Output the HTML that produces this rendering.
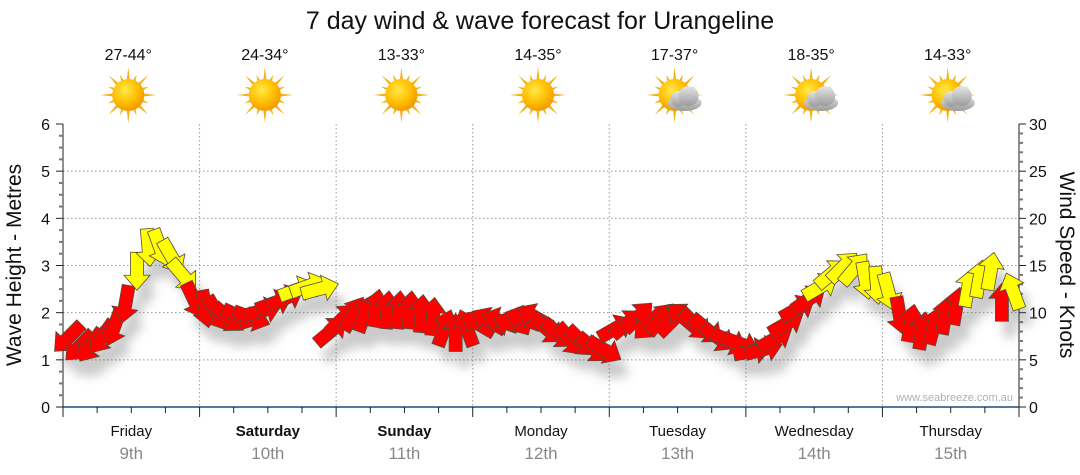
<!DOCTYPE html>
<html><head><meta charset="utf-8">
<style>
html,body{margin:0;padding:0;background:#fff;}
svg{display:block;font-family:"Liberation Sans","DejaVu Sans",sans-serif;}
</style></head>
<body>
<svg id="c" width="1080" height="475" viewBox="0 0 1080 475" xmlns="http://www.w3.org/2000/svg">
<defs>
<filter id="sh" x="-50%" y="-50%" width="200%" height="200%"><feGaussianBlur stdDeviation="5"/></filter>
<radialGradient id="sunG" cx="40%" cy="35%" r="65%"><stop offset="0" stop-color="#ffe94a"/><stop offset="0.6" stop-color="#ffbf00"/><stop offset="1" stop-color="#f39a00"/></radialGradient>
<linearGradient id="cloudG" x1="0" y1="0" x2="0" y2="1"><stop offset="0" stop-color="#e6e6e6"/><stop offset="1" stop-color="#9a9a9a"/></linearGradient>
</defs>
<text x="540" y="29" text-anchor="middle" font-size="25" fill="#111">7 day wind &amp; wave forecast for Urangeline</text>
<g id="grid"></g>
<g id="axes"></g>
<g id="icons"></g>
<g id="shadows" filter="url(#sh)" opacity="0.3"></g>
<g id="arrows"></g>
<text x="1013" y="401" text-anchor="end" font-size="11" fill="#aab0bb">www.seabreeze.com.au</text>
<text transform="translate(21,265) rotate(-90)" text-anchor="middle" font-size="21" fill="#111">Wave Height - Metres</text>
<text transform="translate(1060,265) rotate(90)" text-anchor="middle" font-size="21" fill="#111">Wind Speed - Knots</text>
</svg>
<script>
const days = ["Friday","Saturday","Sunday","Monday","Tuesday","Wednesday","Thursday"];
const dates = ["9th","10th","11th","12th","13th","14th","15th"];
const temps = ["27-44°","24-34°","13-33°","14-35°","17-37°","18-35°","14-33°"];
const cloudy = [false,false,false,false,true,true,true];
const waveTicks = [0,1,2,3,4,5,6];
const windTicks = [0,5,10,15,20,25,30];
// wind every 2 hours (84 points), knots
const windSpeed = [
7.4,6.5,6.6,7.5,8.5,11,14.5,17,17,16,14,11.4,
10.5,10,9.5,9.6,9.5,10.2,11,11.5,12.4,12.8,12.5,8,
9.3,9.8,9.8,10.4,10.2,10.2,10.2,9.8,9.5,8.3,7.8,8.3,
8.8,9.1,9.1,8.8,9.3,9.5,8.3,7.8,7.2,7,6.3,6.1,
8.3,8.8,9.5,8.8,9.3,9.1,9.5,8.8,8.3,7.4,7,6.7,
5.9,6.1,7.2,8.8,10.4,11.4,12.7,14.1,14.8,14.6,13.5,13,
12.3,9.8,8.8,8,8.5,9.6,10.6,12.5,13.5,14.3,11,12.2];
// direction the arrow points, degrees clockwise from up
const windDir = [
225,225,215,215,200,190,180,175,160,150,140,155,
170,150,130,115,110,75,70,65,70,70,75,50,
45,30,20,10,5,5,5,5,5,20,0,340,
300,300,290,285,290,300,130,130,140,135,130,120,
60,50,45,225,40,45,310,135,130,125,115,110,
80,75,60,60,60,55,60,50,45,40,170,175,
165,170,10,10,15,10,10,10,10,10,0,340];

const NS="http://www.w3.org/2000/svg";
const X0=63, X1=1019, Y0=407, Y1=124;
const dayW=(X1-X0)/7;
const xH=h=>X0+h*dayW/24;
const yM=m=>Y0-(m/6)*(Y0-Y1);
const yK=k=>Y0-(k/30)*(Y0-Y1);
function mk(tag,attrs,parent){const e=document.createElementNS(NS,tag);for(const k in attrs)e.setAttribute(k,attrs[k]);parent.appendChild(e);return e;}
const grid=document.getElementById('grid'),axes=document.getElementById('axes'),icons=document.getElementById('icons');
waveTicks.forEach(t=>{if(t>0&&t<6){const l=mk('line',{x1:X0,x2:X1,y1:yM(t),y2:yM(t),stroke:'#999','stroke-dasharray':'1.5,2.5','stroke-width':1},grid);

}});
for(let d=1;d<7;d++){const x=X0+d*dayW;const l=mk('line',{x1:x,x2:x,y1:Y1,y2:Y0,stroke:'#999','stroke-dasharray':'1.5,2.5','stroke-width':1},grid);

}
mk('line',{x1:X0,x2:X0,y1:Y1,y2:Y0,stroke:'#222'},axes);
mk('line',{x1:X1,x2:X1,y1:Y1,y2:Y0,stroke:'#222'},axes);
mk('line',{x1:X0,x2:X1,y1:Y0,y2:Y0,stroke:'#1a4c7a','stroke-width':1.5},axes);
for(let i=0;i<=24;i++){const y=yM(i*0.25);const big=i%4==0;mk('line',{x1:X0-(big?7:4),x2:X0,y1:y,y2:y,stroke:big?'#222':'#777','stroke-width':big?1:2},axes);}
for(let i=0;i<=30;i++){const y=yK(i);const big=i%5==0;mk('line',{x1:X1,x2:X1+(big?7:4),y1:y,y2:y,stroke:big?'#222':'#777','stroke-width':big?1:2},axes);}
waveTicks.forEach(t=>{const e=mk('text',{x:50,y:yM(t)+6,'text-anchor':'end','font-size':16,fill:'#111'},axes);e.textContent=t;

});
windTicks.forEach(t=>{const e=mk('text',{x:1029,y:yK(t)+6,'font-size':16,fill:'#111'},axes);e.textContent=t;

});
for(let i=0;i<=28;i++){const x=xH(i*6);const big=i%4==0;mk('line',{x1:x,x2:x,y1:Y0,y2:Y0+(big?10:6),stroke:'#222'},axes);}
days.forEach((d,i)=>{const cx=X0+(i+0.5)*dayW;
const t=mk('text',{x:cx,y:436,'text-anchor':'middle','font-size':15,fill:'#111','font-weight':(i==1||i==2)?'bold':'normal'},axes);t.textContent=d;


const t2=mk('text',{x:cx,y:459,'text-anchor':'middle','font-size':17,fill:'#888'},axes);t2.textContent=dates[i];


const t3=mk('text',{x:cx-3,y:60,'text-anchor':'middle','font-size':16,fill:'#111'},icons);t3.textContent=temps[i];


const g=mk('g',{transform:`translate(${cx-3},95)`},icons);


for(let r=0;r<16;r++){const a=r*22.5*Math.PI/180;const L=(r%2==0)?28:22;
mk('polygon',{points:`${Math.cos(a+0.12)*14},${Math.sin(a+0.12)*14} ${Math.cos(a)*L},${Math.sin(a)*L} ${Math.cos(a-0.12)*14},${Math.sin(a-0.12)*14}`,fill:'#f3b21a'},g);}
mk('circle',{cx:0,cy:0,r:16,fill:'url(#sunG)'},g);
if(cloudy[i]){const c=mk('g',{transform:'translate(10,4)'},g);
mk('ellipse',{cx:0,cy:4,rx:17,ry:8,fill:'url(#cloudG)'},c);
mk('circle',{cx:-6,cy:0,r:8,fill:'url(#cloudG)'},c);
mk('circle',{cx:4,cy:-3,r:10,fill:'url(#cloudG)'},c);}
});
const sh=document.getElementById('shadows'),ar=document.getElementById('arrows');
const shape="0,-20 13,-5 6.5,-5 6.5,18 -6.5,18 -6.5,-5 -13,-5";
windSpeed.forEach((k,i)=>{const x=xH(i*2+1),y=yK(k),d=windDir[i];
mk('polygon',{points:shape,transform:`translate(${x+8},${y+16}) rotate(${d})`,fill:'#555'},sh);
const p=mk('polygon',{points:shape,transform:`translate(${x},${y}) rotate(${d})`,fill:k>=12?'#ffff00':'#ff0000',stroke:'#5a4a3a','stroke-width':0.8},ar);

});
</script>
</body></html>
